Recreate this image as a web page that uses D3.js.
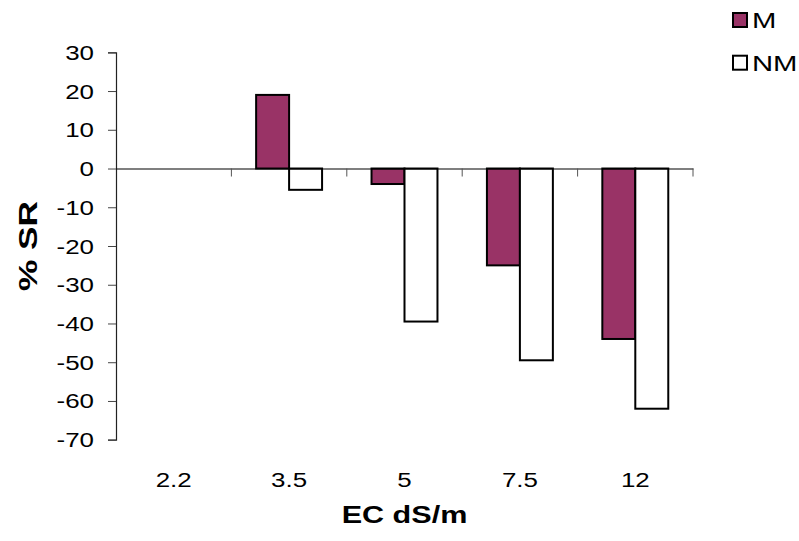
<!DOCTYPE html>
<html>
<head>
<meta charset="utf-8">
<script src="https://cdn.jsdelivr.net/npm/d3@7"></script>
<style>
  html, body { margin: 0; padding: 0; background: #fff; }
  svg { display: block; font-family: "Liberation Sans", Arial, sans-serif; }
</style>
</head>
<body>
<svg id="chart" width="799" height="541"></svg>
<script>
// Salinity levels (EC, dS/m)
const categories = ["2.2", "3.5", "5", "7.5", "12"];
// % SR per salinity level; null where no bar is drawn
const seriesM  = [null, 19, -4, -25, -44];
const seriesNM = [null, -5.5, -39.5, -49.5, -62];
const seriesNames = ["M", "NM"];
const yTicks = [30, 20, 10, 0, -10, -20, -30, -40, -50, -60, -70];

const colors = { M: "#993366", NM: "#ffffff" };
const WIDE = 1.33; // text is drawn widened along its direction

const svg = d3.select("#chart");
const plotLeft = 116, plotRight = 693, plotTop = 52.3, plotBottom = 439.7;

const x = d3.scaleBand().domain(categories).range([plotLeft, plotRight]).padding(0);
const y = d3.scaleLinear().domain([-70, 30]).range([plotBottom, plotTop]);

// widened text helper
function wideText(parent, tx, ty, str, size, anchor, weight, rotate) {
  return parent.append("text")
    .attr("transform", `translate(${tx},${ty})${rotate ? ` rotate(${rotate})` : ""} scale(${WIDE},1)`)
    .attr("text-anchor", anchor)
    .attr("font-size", size)
    .attr("font-weight", weight || "normal")
    .attr("fill", "#000")
    .text(str);
}

// two bars per group, Excel-style 150% gap
const bandW = x.bandwidth();
const barW = bandW / 3.5;
const inner = d3.scaleBand().domain(seriesNames).range([0, barW * 2]);

const rows = categories.map((c, i) => ({ cat: c, M: seriesM[i], NM: seriesNM[i] }));

// bars
const g = svg.append("g");
rows.forEach(r => {
  seriesNames.forEach(s => {
    const v = r[s];
    if (v === null) return;
    g.append("rect")
      .attr("x", x(r.cat) + (bandW - barW * 2) / 2 + inner(s))
      .attr("y", y(Math.max(0, v)))
      .attr("width", inner.bandwidth())
      .attr("height", Math.abs(y(v) - y(0)))
      .attr("fill", colors[s])
      .attr("stroke", "#000")
      .attr("stroke-width", 2);
  });
});

// y axis
const yAxis = d3.axisLeft(y).tickValues(yTicks).tickSize(8).tickFormat("");
const ya = svg.append("g").attr("transform", `translate(${plotLeft},0)`).call(yAxis);
ya.select(".domain").attr("stroke", "#222").attr("stroke-width", 1.2);
ya.selectAll(".tick line").attr("stroke", "#444");
const yLabels = svg.append("g");
yTicks.forEach(t => wideText(yLabels, 94, y(t) + 7.5, String(t), 19.5, "end"));

// zero line with category ticks pointing down
const xAxis = d3.axisBottom(x).tickSize(0).tickFormat("");
const xa = svg.append("g").attr("transform", `translate(0,${y(0)})`).call(xAxis);
xa.select(".domain").attr("stroke", "#000").attr("stroke-width", 1.2);
xa.selectAll(".tick").remove();
const boundaries = categories.map(c => x(c)).concat([x(categories[categories.length - 1]) + bandW]);
xa.selectAll("line.sep").data(boundaries.slice(1)).enter().append("line")
  .attr("class", "sep")
  .attr("x1", d => d).attr("x2", d => d)
  .attr("y1", 0).attr("y2", 8)
  .attr("stroke", "#555").attr("stroke-width", 1);

// category labels below the plot
const xLabels = svg.append("g");
categories.forEach(c => wideText(xLabels, x(c) + bandW / 2, 487, c, 19.5, "middle"));

// axis titles
wideText(svg, (plotLeft + plotRight) / 2, 523, "EC dS/m", 23, "middle", "bold");
wideText(svg, 36.5, 246, "% SR", 26.5, "middle", "bold", -90);

// legend
const legend = svg.append("g");
seriesNames.forEach((s, i) => {
  const ly = 13 + i * 42.7;
  legend.append("rect")
    .attr("x", 733).attr("y", ly)
    .attr("width", 14).attr("height", 14)
    .attr("fill", colors[s]).attr("stroke", "#000").attr("stroke-width", 2);
  wideText(legend, 752, ly + 15, s, 22, "start");
});
</script>
</body>
</html>
